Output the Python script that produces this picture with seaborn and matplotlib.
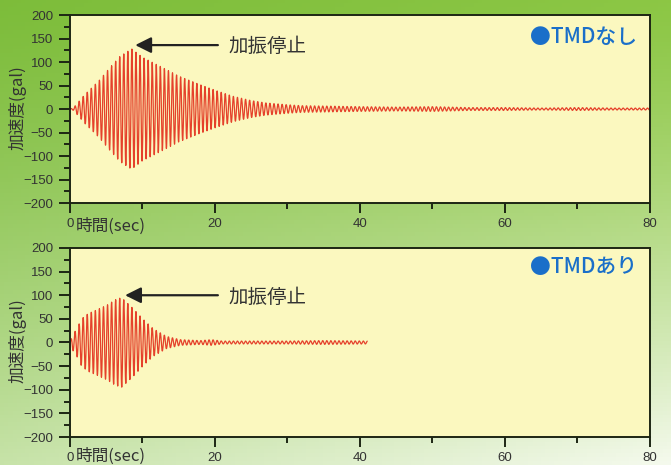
import numpy as np
import pandas as pd
import matplotlib
matplotlib.use("Agg")
import matplotlib.pyplot as plt
import seaborn as sns
from matplotlib.ticker import MultipleLocator

# envelope peaks (time in sec, amplitude in gal)
no_tmd_t = [0, 0.5, 1, 2, 3.2, 4.1, 5.5, 6.9, 8.5, 10, 13.3, 15, 17.9, 20, 22.5, 25, 27,
            30, 32, 36, 40, 45, 50, 55, 60, 65, 70, 75, 80]
no_tmd_amp = [0, 3, 12, 30, 48, 62, 88, 112, 128, 110, 84, 70, 52, 40, 27, 18, 13,
              9, 7, 6, 5, 4, 5, 3, 3, 2, 3, 2, 2]
tmd_t = [0, 0.3, 0.9, 1.6, 2.5, 3.7, 5.1, 6.2, 7.1, 8.7, 10.1, 11.5, 13.3, 15.2, 18,
         19.5, 21, 25, 30, 35, 41]
tmd_amp = [0, 15, 28, 50, 61, 69, 79, 90, 95, 72, 49, 29, 13, 6, 4,
           6, 3, 3, 3, 4, 3]
period = 0.56  # sec, oscillation period

x_ticks = [0, 20, 40, 60, 80]
y_ticks = [-200, -150, -100, -50, 0, 50, 100, 150, 200]
panels = [
    {"t": no_tmd_t, "amp": no_tmd_amp, "label": "●TMDなし", "stop": (9.0, 136), "label_y": 153},
    {"t": tmd_t, "amp": tmd_amp, "label": "●TMDあり", "stop": (7.6, 100), "label_y": 160},
]


def build_signal(t_pts, amp_pts):
    t = np.arange(0, t_pts[-1], period / 20)
    env = np.interp(t, t_pts, amp_pts)
    return pd.DataFrame({"t": t, "acc": env * np.sin(2 * np.pi * t / period)})


sns.set_style("ticks")
plt.rcParams["font.family"] = ["Noto Sans CJK JP", "DejaVu Sans"]

fig = plt.figure(figsize=(6.71, 4.65), dpi=100)

# green gradient background
bg = fig.add_axes([0, 0, 1, 1], zorder=-10)
ny, nx = 120, 160
yy, xx = np.mgrid[0:1:ny * 1j, 0:1:nx * 1j]
tl = np.array([0.49, 0.74, 0.23])
tr = np.array([0.55, 0.78, 0.27])
bl = np.array([0.78, 0.89, 0.66])
br = np.array([0.96, 0.98, 0.93])
top = tl[None, None, :] * (1 - xx[..., None]) + tr[None, None, :] * xx[..., None]
bot = bl[None, None, :] * (1 - xx[..., None]) + br[None, None, :] * xx[..., None]
w = (yy ** 1.3)[..., None]
img = top * (1 - w) + bot * w
bg.imshow(img, aspect="auto", extent=[0, 1, 0, 1], origin="upper")
bg.axis("off")

rects = [[0.1043, 0.5634, 0.8644, 0.4043], [0.1043, 0.0602, 0.8644, 0.4065]]
spine_c = "#1d2614"
text_c = "#333333"

for rect, p in zip(rects, panels):
    ax = fig.add_axes(rect)
    ax.set_facecolor("#fbf8bf")
    df = build_signal(p["t"], p["amp"])
    sns.lineplot(data=df, x="t", y="acc", ax=ax, color="#e5412b", linewidth=0.9,
                 estimator=None, sort=False)
    ax.set_xlim(0, 80)
    ax.set_ylim(-200, 200)
    ax.set_xticks(x_ticks)
    ax.set_yticks(y_ticks)
    ax.xaxis.set_minor_locator(MultipleLocator(10))
    ax.yaxis.set_minor_locator(MultipleLocator(25))
    ax.set_xlabel("")
    ax.set_ylabel("")
    for s in ax.spines.values():
        s.set_color(spine_c)
        s.set_linewidth(1.4)
    ax.tick_params(which="major", direction="out", length=8, width=1.4, color=spine_c,
                   labelsize=9.5, labelcolor=text_c, pad=4)
    ax.tick_params(which="minor", direction="out", length=4, width=1.4, color=spine_c)
    ax.tick_params(axis="x", which="major", length=7.5, pad=3)
    for lab in ax.get_xticklabels() + ax.get_yticklabels():
        lab.set_family(["Liberation Sans", "DejaVu Sans"])

    sx, sy = p["stop"]
    ax.annotate("", xy=(sx, sy), xytext=(20.4, sy),
                arrowprops=dict(arrowstyle="-|>", color="#222222", lw=1.6, mutation_scale=24,
                                shrinkA=0, shrinkB=0))
    ax.text(21.8, sy - 4, "加振停止", fontsize=14, color=text_c, va="center", ha="left")
    ax.text(78.2, p["label_y"], p["label"], fontsize=15, color="#1a6fc9", va="center",
            ha="right", fontweight="medium")

    # y label and x label
    b, h = rect[1], rect[3]
    fig.text(18 / 671, b + h * 0.51, "加速度(gal)", rotation=90, fontsize=12,
             color=text_c, ha="center", va="center")
    fig.text(76 / 671, max(b - 23 / 465, 9 / 465), "時間(sec)", fontsize=12, color=text_c,
             ha="left", va="center")

fig.savefig("out.png", dpi=100)
